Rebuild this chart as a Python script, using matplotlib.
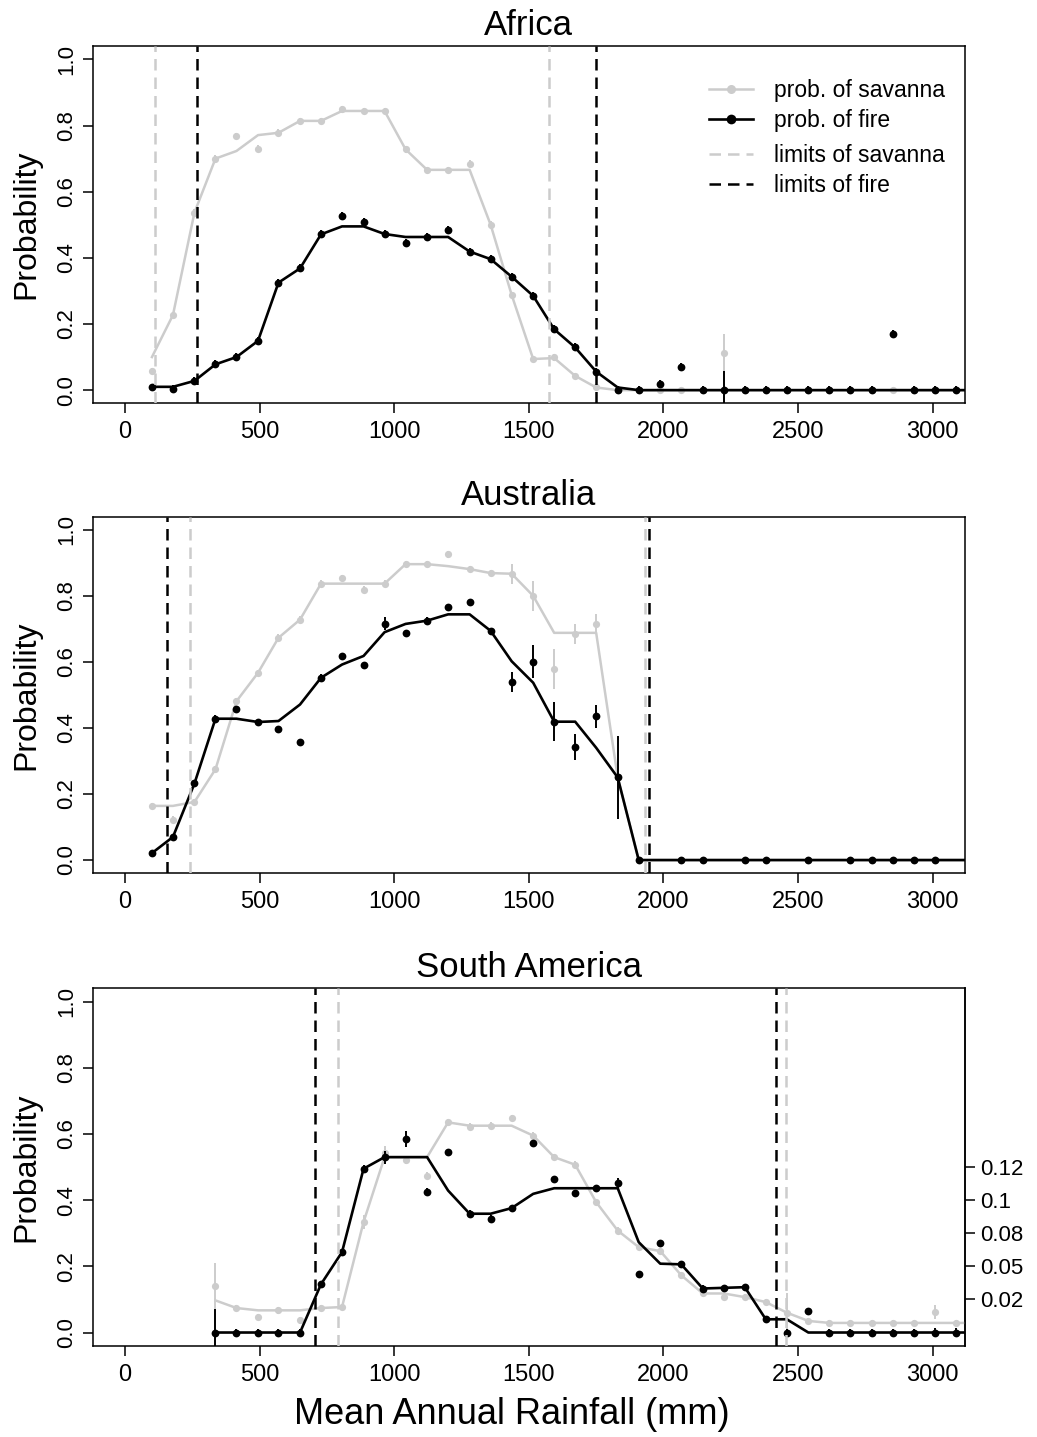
import numpy as np
import matplotlib.pyplot as plt
from matplotlib.lines import Line2D

nan = np.nan

# rainfall bin centres (mm)
bins = [100, 178, 258, 336, 414, 494, 570, 650, 728, 806,
        886, 964, 1042, 1122, 1200, 1280, 1358, 1436, 1516, 1594,
        1672, 1750, 1830, 1908, 1988, 2066, 2146, 2224, 2302, 2380,
        2458, 2538, 2616, 2694, 2774, 2852, 2930, 3010, 3088, 3166]

# ---- Africa
afr_fire_pts = [0.008, 0.003, 0.028, 0.078, 0.100, 0.149, 0.325, 0.368, 0.471, 0.527,
                0.509, 0.472, 0.444, 0.463, 0.484, 0.419, 0.396, 0.343, 0.285, 0.184,
                0.129, 0.056, 0.0, 0.0, 0.018, 0.070, 0.0, 0.0, 0.0, 0.0,
                0.0, 0.0, 0.0, 0.0, 0.0, 0.169, 0.0, 0.0, 0.0, nan]
afr_fire_line = [0.010, 0.010, 0.028, 0.078, 0.100, 0.149, 0.325, 0.368, 0.471, 0.495,
                 0.495, 0.472, 0.463, 0.463, 0.463, 0.419, 0.396, 0.343, 0.285, 0.184,
                 0.129, 0.056, 0.008, 0.0, 0.0, 0.0, 0.0, 0.0, 0.0, 0.0,
                 0.0, 0.0, 0.0, 0.0, 0.0, 0.0, 0.0, 0.0, 0.0, 0.0]
afr_fire_err = [0.012] * 27 + [0.058] + [0.012] * 12
afr_sav_pts = [0.058, 0.227, 0.537, 0.700, 0.768, 0.730, 0.778, 0.814, 0.814, 0.849,
               0.844, 0.844, 0.728, 0.666, 0.666, 0.685, 0.500, 0.288, 0.094, 0.099,
               0.043, 0.008, 0.0, 0.0, 0.0, 0.0, 0.0, 0.111, 0.0, 0.0,
               0.0, 0.0, 0.0, 0.0, 0.0, 0.0, 0.0, 0.0, 0.0, nan]
afr_sav_line = [0.100, 0.227, 0.537, 0.700, 0.723, 0.771, 0.778, 0.814, 0.814, 0.844,
                0.844, 0.844, 0.728, 0.666, 0.666, 0.666, 0.500, 0.288, 0.094, 0.097,
                0.043, 0.008, 0.0, 0.0, 0.0, 0.0, 0.0, 0.0, 0.0, 0.0,
                0.0, 0.0, 0.0, 0.0, 0.0, 0.0, 0.0, 0.0, 0.0, 0.0]
afr_sav_err = [0.01] * 27 + [0.06] + [0.01] * 12
afr_sav_lim = [110, 1576]
afr_fire_lim = [266, 1751]

# ---- Australia
aus_fire_pts = [0.021, 0.070, 0.232, 0.428, 0.458, 0.418, 0.396, 0.356, 0.552, 0.618,
                0.591, 0.716, 0.688, 0.725, 0.765, 0.782, 0.694, 0.539, 0.600, 0.419,
                0.342, 0.436, 0.250, 0.0, nan, 0.0, 0.0, nan, 0.0, 0.0,
                nan, 0.0, nan, 0.0, 0.0, 0.0, 0.0, 0.0, nan, nan]
aus_fire_line = [0.021, 0.070, 0.232, 0.428, 0.428, 0.418, 0.421, 0.471, 0.552, 0.592,
                 0.618, 0.690, 0.715, 0.725, 0.744, 0.744, 0.694, 0.602, 0.537, 0.419,
                 0.419, 0.340, 0.250, 0.0, 0.0, 0.0, 0.0, 0.0, 0.0, 0.0,
                 0.0, 0.0, 0.0, 0.0, 0.0, 0.0, 0.0, 0.0, 0.0, 0.0]
aus_fire_err = [0.01, 0.01, 0.01, 0.01, 0.01, 0.01, 0.01, 0.01, 0.01, 0.01,
                0.01, 0.02, 0.01, 0.01, 0.01, 0.01, 0.01, 0.03, 0.05, 0.06,
                0.04, 0.035, 0.125, 0.01, 0.01, 0.01, 0.01, 0.01, 0.01, 0.01,
                0.01, 0.01, 0.01, 0.01, 0.01, 0.01, 0.01, 0.01, 0.01, 0.01]
aus_sav_pts = [0.164, 0.122, 0.176, 0.275, 0.481, 0.567, 0.673, 0.728, 0.837, 0.854,
               0.819, 0.837, 0.896, 0.896, 0.926, 0.881, 0.869, 0.867, 0.800, 0.579,
               0.685, 0.715, 0.250, 0.0, nan, 0.0, 0.0, nan, 0.0, 0.0,
               nan, 0.0, nan, 0.0, 0.0, 0.0, 0.0, 0.0, nan, nan]
aus_sav_line = [0.164, 0.164, 0.176, 0.275, 0.481, 0.567, 0.673, 0.728, 0.837, 0.837,
                0.837, 0.837, 0.896, 0.896, 0.890, 0.881, 0.869, 0.867, 0.800, 0.688,
                0.688, 0.688, 0.250, 0.0, 0.0, 0.0, 0.0, 0.0, 0.0, 0.0,
                0.0, 0.0, 0.0, 0.0, 0.0, 0.0, 0.0, 0.0, 0.0, 0.0]
aus_sav_err = [0.01] * 17 + [0.03, 0.045, 0.06, 0.03, 0.03] + [0.01] * 18
aus_sav_lim = [240, 1933]
aus_fire_lim = [155, 1946]

# ---- South America
sa_fire_pts = [nan, nan, nan, 0.0, 0.0, 0.0, 0.0, 0.0, 0.146, 0.243,
               0.495, 0.530, 0.585, 0.426, 0.545, 0.359, 0.344, 0.376, 0.573, 0.464,
               0.421, 0.436, 0.452, 0.176, 0.270, 0.206, 0.133, 0.135, 0.137, 0.040,
               0.0, 0.064, 0.0, 0.0, 0.0, 0.0, 0.0, 0.0, 0.0, nan]
sa_fire_line = [nan, nan, nan, 0.0, 0.0, 0.0, 0.0, 0.0, 0.146, 0.243,
                0.495, 0.530, 0.530, 0.530, 0.429, 0.359, 0.359, 0.376, 0.419, 0.436,
                0.436, 0.436, 0.436, 0.273, 0.208, 0.206, 0.133, 0.135, 0.137, 0.040,
                0.040, 0.0, 0.0, 0.0, 0.0, 0.0, 0.0, 0.0, 0.0, 0.0]
sa_fire_err = [nan, nan, nan, 0.072, 0.01, 0.01, 0.01, 0.01, 0.01, 0.01,
               0.01, 0.02, 0.025, 0.01, 0.01, 0.01, 0.01, 0.01, 0.01, 0.01,
               0.01, 0.01, 0.015, 0.01, 0.01, 0.01, 0.01, 0.01, 0.01, 0.01,
               0.01, 0.01, 0.01, 0.01, 0.01, 0.01, 0.01, 0.015, 0.015, nan]
sa_sav_pts = [nan, nan, nan, 0.141, 0.074, 0.047, 0.067, 0.037, 0.074, 0.077,
              0.334, 0.543, 0.520, 0.474, 0.635, 0.622, 0.625, 0.648, 0.595, 0.530,
              0.507, 0.394, 0.308, 0.258, 0.246, 0.173, 0.118, 0.107, 0.107, 0.092,
              0.060, 0.035, 0.029, 0.029, 0.029, 0.029, 0.029, 0.062, 0.029, nan]
sa_sav_line = [nan, nan, nan, 0.097, 0.074, 0.067, 0.067, 0.067, 0.074, 0.077,
               0.334, 0.530, 0.530, 0.530, 0.635, 0.625, 0.625, 0.625, 0.595, 0.530,
               0.507, 0.394, 0.308, 0.258, 0.246, 0.173, 0.118, 0.118, 0.107, 0.092,
               0.060, 0.035, 0.029, 0.029, 0.029, 0.029, 0.029, 0.029, 0.029, 0.029]
sa_sav_err = [nan, nan, nan, 0.07, 0.01, 0.01, 0.01, 0.01, 0.01, 0.01,
              0.02, 0.02, 0.01, 0.01, 0.01, 0.01, 0.01, 0.01, 0.01, 0.01,
              0.01, 0.01, 0.01, 0.01, 0.01, 0.01, 0.01, 0.01, 0.01, 0.01,
              0.06, 0.01, 0.01, 0.01, 0.01, 0.01, 0.01, 0.02, 0.01, nan]
sa_sav_lim = [791, 2456]
sa_fire_lim = [704, 2419]

right_ticks = [0.1, 0.2, 0.3, 0.4, 0.5]
right_labels = ['0.02', '0.05', '0.08', '0.1', '0.12']

GREY = '#cccccc'
DASH = (0, (4.6, 2.8))

plt.rcParams['font.family'] = ['Liberation Sans', 'DejaVu Sans']

fig = plt.figure(figsize=(10.37, 14.37), dpi=100)


def draw_panel(ax, title, sav_pts, sav_line, sav_err, fire_pts, fire_line, fire_err,
               sav_lim, fire_lim):
    ax.errorbar(bins, sav_pts, yerr=sav_err, fmt='none', ecolor=GREY, elinewidth=1.4,
                capsize=0, zorder=2)
    ax.plot(bins, sav_line, color=GREY, lw=1.8, zorder=2)
    ax.plot(bins, sav_pts, 'o', color=GREY, ms=5.2, mec='none', zorder=2)
    ax.errorbar(bins, fire_pts, yerr=fire_err, fmt='none', ecolor='black', elinewidth=1.4,
                capsize=0, zorder=3)
    ax.plot(bins, fire_line, color='black', lw=1.9, zorder=3)
    ax.plot(bins, fire_pts, 'o', color='black', ms=5.6, mec='none', zorder=3)
    for v in sav_lim:
        ax.axvline(v, color=GREY, lw=1.8, linestyle=DASH, zorder=4)
    for v in fire_lim:
        ax.axvline(v, color='black', lw=1.8, linestyle=DASH, zorder=4)

    ax.set_xlim(-120, 3120)
    ax.set_ylim(-0.04, 1.04)
    ax.set_xticks([0, 500, 1000, 1500, 2000, 2500, 3000])
    ax.set_yticks([0.0, 0.2, 0.4, 0.6, 0.8, 1.0])
    ax.set_yticklabels(['0.0', '0.2', '0.4', '0.6', '0.8', '1.0'])
    ax.tick_params(axis='x', length=7, width=1.1, labelsize=17, pad=6)
    ax.tick_params(axis='y', length=7, width=1.1, labelsize=16, pad=4, labelrotation=90)
    for lab in ax.get_yticklabels():
        lab.set_va('center')
    for s in ax.spines.values():
        s.set_linewidth(1.1)
    ax.set_title(title, fontsize=25, pad=8)
    ax.set_ylabel('Probability', fontsize=23)
    ax.yaxis.set_label_coords(-0.059, 0.5)


left, width = 0.0894, 0.8412
ax1 = fig.add_axes([left, 0.7193, width, 0.2486])
ax2 = fig.add_axes([left, 0.3923, width, 0.2482])
ax3 = fig.add_axes([left, 0.0635, width, 0.2487])

draw_panel(ax1, 'Africa', afr_sav_pts, afr_sav_line, afr_sav_err,
           afr_fire_pts, afr_fire_line, afr_fire_err, afr_sav_lim, afr_fire_lim)
draw_panel(ax2, 'Australia', aus_sav_pts, aus_sav_line, aus_sav_err,
           aus_fire_pts, aus_fire_line, aus_fire_err, aus_sav_lim, aus_fire_lim)
draw_panel(ax3, 'South America', sa_sav_pts, sa_sav_line, sa_sav_err,
           sa_fire_pts, sa_fire_line, sa_fire_err, sa_sav_lim, sa_fire_lim)

ax3.set_xlabel('Mean Annual Rainfall (mm)', fontsize=26, labelpad=8)
ax3.xaxis.label.set_x(0.481)

# right-hand axis on the bottom panel
sec = ax3.secondary_yaxis('right')
sec.set_yticks(right_ticks)
sec.set_yticklabels(right_labels)
sec.tick_params(length=7, width=1.1, labelsize=16, pad=4)
sec.spines['right'].set_linewidth(1.1)

# legend in the Africa panel
h1 = [Line2D([], [], color=GREY, lw=1.8, marker='o', ms=6.5, mec='none'),
      Line2D([], [], color='black', lw=1.9, marker='o', ms=7, mec='none')]
h2 = [Line2D([], [], color=GREY, lw=1.8, linestyle=DASH),
      Line2D([], [], color='black', lw=1.8, linestyle=DASH)]
kw = dict(loc='upper left', frameon=False, fontsize=16.5, handlelength=1.9,
          handletextpad=0.9, labelspacing=0.3, borderpad=0, borderaxespad=0)
leg1 = ax1.legend(h1, ['prob. of savanna', 'prob. of fire'],
                  bbox_to_anchor=(0.707, 0.908), **kw)
ax1.add_artist(leg1)
ax1.legend(h2, ['limits of savanna', 'limits of fire'],
           bbox_to_anchor=(0.707, 0.725), **kw)

fig.savefig('out.png', dpi=100)
